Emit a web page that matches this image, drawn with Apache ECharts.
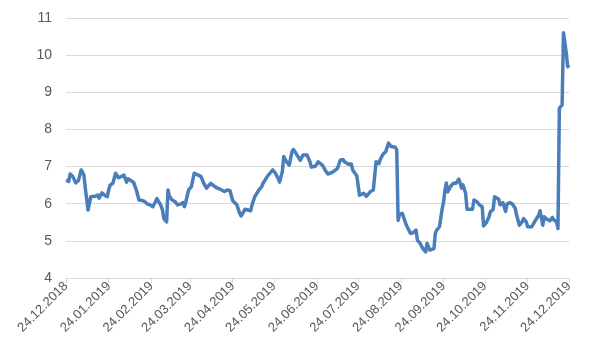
<!DOCTYPE html>
<html>
<head>
<meta charset="utf-8">
<script src="https://cdn.jsdelivr.net/npm/echarts@6/dist/echarts.min.js"></script>
<style>html,body{margin:0;padding:0;background:#fff}#c{width:600px;height:360px}</style>
</head>
<body>
<div id="c"></div>
<script>
var dates = ["2018-12-24","2018-12-26","2018-12-27","2018-12-29","2018-12-31","2019-01-02","2019-01-04","2019-01-06","2019-01-07","2019-01-09","2019-01-10","2019-01-11","2019-01-14","2019-01-16","2019-01-17","2019-01-19","2019-01-21","2019-01-23","2019-01-24","2019-01-25","2019-01-27","2019-01-29","2019-01-31","2019-02-02","2019-02-04","2019-02-06","2019-02-07","2019-02-08","2019-02-11","2019-02-13","2019-02-15","2019-02-17","2019-02-19","2019-02-21","2019-02-23","2019-02-25","2019-02-27","2019-02-28","2019-03-01","2019-03-03","2019-03-04","2019-03-05","2019-03-07","2019-03-08","2019-03-09","2019-03-11","2019-03-13","2019-03-15","2019-03-17","2019-03-19","2019-03-20","2019-03-21","2019-03-23","2019-03-25","2019-03-27","2019-03-28","2019-03-30","2019-04-01","2019-04-03","2019-04-05","2019-04-06","2019-04-08","2019-04-09","2019-04-11","2019-04-13","2019-04-16","2019-04-18","2019-04-20","2019-04-22","2019-04-24","2019-04-27","2019-04-29","2019-04-30","2019-05-02","2019-05-03","2019-05-04","2019-05-07","2019-05-08","2019-05-10","2019-05-13","2019-05-15","2019-05-16","2019-05-19","2019-05-21","2019-05-23","2019-05-25","2019-05-27","2019-05-28","2019-05-30","2019-05-31","2019-06-02","2019-06-04","2019-06-06","2019-06-07","2019-06-09","2019-06-12","2019-06-13","2019-06-14","2019-06-17","2019-06-19","2019-06-20","2019-06-23","2019-06-25","2019-06-28","2019-06-30","2019-07-02","2019-07-05","2019-07-07","2019-07-09","2019-07-11","2019-07-13","2019-07-14","2019-07-17","2019-07-19","2019-07-20","2019-07-23","2019-07-25","2019-07-26","2019-07-28","2019-07-30","2019-08-02","2019-08-04","2019-08-06","2019-08-08","2019-08-09","2019-08-11","2019-08-13","2019-08-15","2019-08-17","2019-08-20","2019-08-21","2019-08-22","2019-08-23","2019-08-25","2019-08-26","2019-08-28","2019-08-29","2019-08-31","2019-09-02","2019-09-04","2019-09-05","2019-09-07","2019-09-09","2019-09-11","2019-09-12","2019-09-14","2019-09-15","2019-09-17","2019-09-18","2019-09-19","2019-09-21","2019-09-23","2019-09-24","2019-09-25","2019-09-26","2019-09-27","2019-09-29","2019-10-01","2019-10-02","2019-10-03","2019-10-05","2019-10-06","2019-10-07","2019-10-08","2019-10-10","2019-10-11","2019-10-13","2019-10-15","2019-10-16","2019-10-18","2019-10-20","2019-10-22","2019-10-23","2019-10-25","2019-10-27","2019-10-28","2019-10-30","2019-10-31","2019-11-01","2019-11-03","2019-11-04","2019-11-06","2019-11-08","2019-11-09","2019-11-11","2019-11-13","2019-11-15","2019-11-16","2019-11-18","2019-11-20","2019-11-21","2019-11-23","2019-11-24","2019-11-27","2019-11-29","2019-12-02","2019-12-03","2019-12-05","2019-12-06","2019-12-08","2019-12-10","2019-12-12","2019-12-13","2019-12-15","2019-12-16","2019-12-17","2019-12-19","2019-12-20","2019-12-22","2019-12-23","2019-12-24"];
var values = [6.64,6.6,6.8,6.73,6.56,6.62,6.91,6.77,6.42,5.83,5.78,6.19,6.2,6.23,6.15,6.29,6.23,6.19,6.37,6.5,6.55,6.82,6.7,6.73,6.77,6.58,6.67,6.67,6.58,6.37,6.1,6.09,6.06,5.99,5.97,5.92,6.06,6.14,6.1,5.94,5.83,5.6,5.51,6.37,6.2,6.1,6.06,5.97,5.99,6.03,5.92,6.06,6.37,6.46,6.82,6.87,6.77,6.73,6.55,6.42,6.37,6.55,6.56,6.46,6.42,6.37,6.33,6.37,6.35,6.08,5.97,5.74,5.67,5.79,5.85,5.8,5.81,5.97,6.19,6.37,6.46,6.55,6.73,6.82,6.91,6.82,6.67,6.58,6.87,7.27,7.13,7.04,7.4,7.46,7.35,7.17,7.13,7.31,7.31,7.13,6.99,7.01,7.13,7.04,6.91,6.8,6.84,6.89,6.95,7.17,7.19,7.13,7.06,7.07,6.91,6.75,6.23,6.19,6.28,6.2,6.33,6.37,7.13,7.08,7.19,7.33,7.4,7.63,7.54,7.52,7.45,5.55,5.72,5.74,5.7,5.42,5.47,5.2,5.22,5.29,5.02,4.93,4.79,4.7,4.93,4.75,4.77,4.79,5.2,5.29,5.38,5.87,6.05,6.37,6.56,6.32,6.46,6.55,6.5,6.55,6.66,6.56,6.42,6.51,6.28,5.85,5.85,5.85,6.1,6.06,5.97,5.92,5.4,5.49,5.65,5.79,5.85,6.19,6.23,6.12,5.97,6.03,5.79,5.99,6.03,5.99,5.87,5.69,5.42,5.51,5.6,5.51,5.38,5.38,5.51,5.69,5.81,5.42,5.65,5.58,5.54,5.63,5.56,5.51,5.33,8.57,8.66,10.6,10.06,9.7,9.66];
var tickDates = ["2018-12-24","2019-01-24","2019-02-24","2019-03-24","2019-04-24","2019-05-24","2019-06-24","2019-07-24","2019-08-24","2019-09-24","2019-10-24","2019-11-24","2019-12-24"];

function ts(s){var p=s.split('-');return Date.UTC(+p[0],+p[1]-1,+p[2]);}
function pad(n){return (n<10?'0':'')+n;}
function fmt(v){var d=new Date(v);return pad(d.getUTCDate())+'.'+pad(d.getUTCMonth()+1)+'.'+d.getUTCFullYear();}

var seriesData = dates.map(function(d,i){return [ts(d), values[i]];});
var tickVals = tickDates.map(ts);

var chart = echarts.init(document.getElementById('c'), null, {renderer:'canvas'});
chart.setOption({
  animation:false,
  backgroundColor:'#ffffff',
  grid:{left:66,right:31,top:18,bottom:82,containLabel:false},
  xAxis:{
    type:'value',
    min:tickVals[0],
    max:tickVals[tickVals.length-1],
    axisLine:{show:true,lineStyle:{color:'#d9d9d9',width:1}},
    axisTick:{show:true,length:5,customValues:tickVals,lineStyle:{color:'#d9d9d9'}},
    axisLabel:{customValues:tickVals,rotate:45,formatter:fmt,color:'#595959',fontSize:13,fontFamily:'Liberation Sans, Arial, sans-serif',margin:6,hideOverlap:false},
    splitLine:{show:false}
  },
  yAxis:{
    type:'value',min:4,max:11,interval:1,
    axisLine:{show:false},axisTick:{show:false},
    axisLabel:{color:'#595959',fontSize:14,fontFamily:'Liberation Sans, Arial, sans-serif',margin:14},
    splitLine:{lineStyle:{color:'#d9d9d9',width:1}}
  },
  series:[{
    type:'line',
    data:seriesData,
    showSymbol:false,
    symbol:'none',
    lineStyle:{color:'#4a7ebb',width:3.5,join:'round'},
    itemStyle:{color:'#4a7ebb'}
  }]
});
</script>
</body>
</html>
